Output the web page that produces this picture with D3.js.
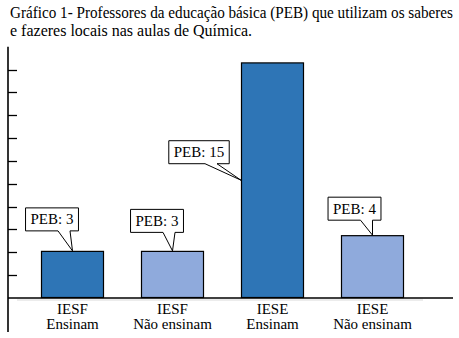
<!DOCTYPE html>
<html><head><meta charset="utf-8"><script src="https://cdn.jsdelivr.net/npm/d3@7"></script></head>
<body style="margin:0">
<svg id="c" width="459" height="338"></svg>
<script>
// ---- data ----
const titleLines = ["Gráfico 1- Professores da educação básica (PEB) que utilizam os saberes",
                    "e fazeres locais nas aulas de Química."];
const categoryTop = ["IESF", "IESF", "IESE", "IESE"];
const categoryBottom = ["Ensinam", "Não ensinam", "Ensinam", "Não ensinam"];
const values = [3, 3, 15, 4];
const labelPrefix = "PEB: ";
const yMax = 16;
const tickIntervals = 11;

// ---- layout ----
const FONT = "Times New Roman";
const svg = d3.select("#c");
const baseY = 298, topY = 46.7, axisX = 8;
const colors = ["#2E75B6", "#8FAADC", "#2E75B6", "#8FAADC"];
const ids = values.map((d, i) => i);

const x = d3.scaleBand().domain(ids).range([22.5, 422.5]).paddingInner(0.37).paddingOuter(0.185);
const y = d3.scaleLinear().domain([0, yMax]).range([baseY, topY]);

function serif(sel) {
  return sel.attr("font-family", FONT).style("font-family", d => `"${FONT}"`);
}

// title
const titleWidths = [443, null];
svg.selectAll("text.t").data(titleLines).join("text").attr("class", "t")
  .attr("x", 10).attr("y", (d, i) => 18 + i * 17.5)
  .attr("font-size", 16)
  .call(serif)
  .text(d => d)
  .each(function (d, i) {
    const w = this.getComputedTextLength();
    if (titleWidths[i] && w > titleWidths[i] + 2) {
      d3.select(this).attr("textLength", titleWidths[i]).attr("lengthAdjust", "spacingAndGlyphs");
    }
  });

// category labels
svg.selectAll("text.c1").data(ids).join("text").attr("class", "c1")
  .attr("x", i => x(i) + x.bandwidth() / 2).attr("y", 314).attr("text-anchor", "middle")
  .attr("font-size", 15).call(serif).text(i => categoryTop[i]);
svg.selectAll("text.c2").data(ids).join("text").attr("class", "c2")
  .attr("x", i => x(i) + x.bandwidth() / 2).attr("y", 329).attr("text-anchor", "middle")
  .attr("font-size", 15).call(serif).text(i => categoryBottom[i]);

// faint line under baseline
svg.append("line").attr("x1", 17).attr("x2", 423).attr("y1", baseY + 2).attr("y2", baseY + 2)
  .attr("stroke", "#d9d9d9").attr("stroke-width", 1);

// bars
svg.append("g").selectAll("rect").data(values).join("rect")
  .attr("x", (d, i) => x(i) + 0.5)
  .attr("y", d => y(d) + 0.5)
  .attr("width", x.bandwidth() - 1)
  .attr("height", d => baseY - y(d) - 1)
  .attr("fill", (d, i) => colors[i])
  .attr("stroke", "#000").attr("stroke-width", 1.2);

// y ticks (pointing right, no labels) from the y scale
const tickVals = d3.range(1, tickIntervals).map(k => k * yMax / tickIntervals);
svg.append("g").selectAll("line").data(tickVals).join("line")
  .attr("x1", axisX).attr("x2", axisX + 9)
  .attr("y1", d => Math.round(y(d)) + 0.5).attr("y2", d => Math.round(y(d)) + 0.5)
  .attr("stroke", "#000").attr("stroke-width", 1.3);
svg.append("line").attr("x1", axisX).attr("x2", axisX).attr("y1", topY).attr("y2", 332)
  .attr("stroke", "#000").attr("stroke-width", 1.6);

// baseline
svg.append("line").attr("x1", axisX).attr("x2", 453).attr("y1", baseY).attr("y2", baseY)
  .attr("stroke", "#000").attr("stroke-width", 1.5);

// callouts
const calloutOffset = [[-20.5, 20], [-15.5, 18.5], [-42, 16.5], [-18, 15]];
const anchorAtSide = [false, false, true, false];
const cg = svg.append("g");
ids.forEach(i => {
  const v = values[i];
  const ax = anchorAtSide[i] ? x(i) : x(i) + x.bandwidth() / 2;
  const ay = anchorAtSide[i] ? y(v / 2) : y(v);
  const label = labelPrefix + v;
  const t = cg.append("text").datum(i).attr("font-size", 15).attr("text-anchor", "middle")
    .call(serif).text(label);
  const tw = t.node().getComputedTextLength();
  const bw = tw + 10, bh = 23;
  const cx = ax + calloutOffset[i][0];
  const bottom = ay - calloutOffset[i][1];
  const top = bottom - bh, left = cx - bw / 2, right = cx + bw / 2;
  const w1 = cx + 6, w2 = cx + 18;
  const p = `M${left},${top}H${right}V${bottom}H${w2}L${ax},${ay}L${w1},${bottom}H${left}Z`;
  cg.insert("path", "text").attr("d", p).attr("fill", "#fff").attr("stroke", "#000").attr("stroke-width", 1);
  t.attr("x", cx).attr("y", bottom - 6.5);
});
</script>
</body>
</html>
